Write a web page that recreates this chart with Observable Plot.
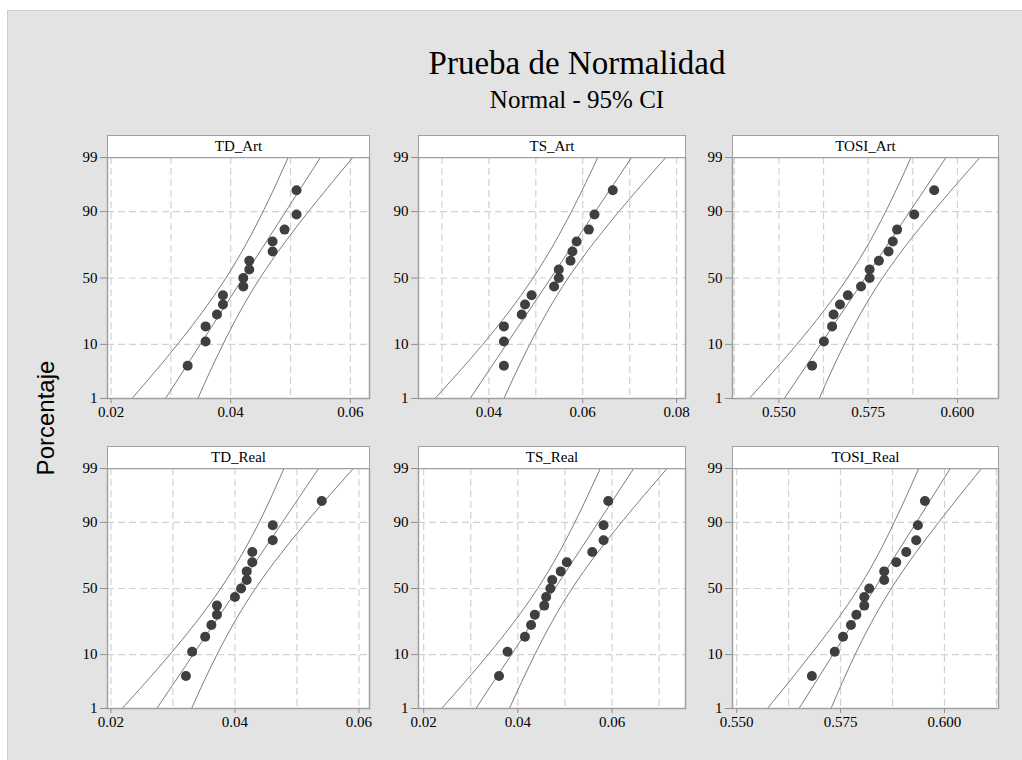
<!DOCTYPE html>
<html>
<head>
<meta charset="utf-8">
<script src="https://cdn.jsdelivr.net/npm/d3@7"></script>
<script src="https://cdn.jsdelivr.net/npm/@observablehq/plot@0.6"></script>
<style>
  html, body { margin: 0; padding: 0; background: #ffffff; width: 1022px; height: 760px; overflow: hidden; }
  #bg { position: absolute; left: 7px; top: 10px; width: 1015px; height: 750px; background: #e3e3e3; border-left: 1px solid #cfcfcf; border-top: 1px solid #cfcfcf; box-sizing: border-box; }
  .abs { position: absolute; }
  .title { font-family: "Liberation Serif", "Times New Roman", serif; color: #000; text-align: center; white-space: nowrap; }
  .strip { position: absolute; background: #fff; border: 1px solid #a0a0a0; box-sizing: border-box; font-family: "Liberation Serif", serif; font-size: 15px; line-height: 20px; text-align: center; color: #000; }
  .ylab { position: absolute; font-family: "Liberation Sans", Arial, sans-serif; font-size: 24px; color: #000; white-space: nowrap; transform: translate(-50%, -50%) rotate(-90deg); }
  svg text { font-family: "Liberation Serif", "Times New Roman", serif !important; }
</style>
</head>
<body>
<div id="bg"></div>
<div id="root"></div>
<script>
// ---------- data ----------
const panelNames = ["TD_Art", "TS_Art", "TOSI_Art", "TD_Real", "TS_Real", "TOSI_Real"];
const pointPct = [4.5, 11.0, 17.5, 24.0, 30.5, 37.0, 43.5, 50.0, 56.5, 63.0, 69.5, 76.0, 82.5, 89.0, 95.5];
const yTickPct = [1, 10, 50, 90, 99];
const yGridPct = [10, 50, 90];
const ciPct = [1, 10, 50, 90, 99];
const fitPct = [1, 99];

const tdArt    = [0.0328, 0.0358, 0.0358, 0.0377, 0.0387, 0.0387, 0.0421, 0.0421, 0.0431, 0.0431, 0.0470, 0.0470, 0.0490, 0.0510, 0.0510];
const tsArt    = [0.0432, 0.0432, 0.0432, 0.0470, 0.0477, 0.0491, 0.0539, 0.0549, 0.0549, 0.0574, 0.0578, 0.0587, 0.0613, 0.0625, 0.0664];
const tosiArt  = [0.5593, 0.5626, 0.5649, 0.5653, 0.5671, 0.5693, 0.5730, 0.5754, 0.5754, 0.5780, 0.5807, 0.5819, 0.5831, 0.5879, 0.5935];
const tdReal   = [0.0321, 0.0331, 0.0352, 0.0362, 0.0371, 0.0371, 0.0400, 0.0410, 0.0419, 0.0419, 0.0428, 0.0428, 0.0461, 0.0461, 0.0540];
const tsReal   = [0.0360, 0.0378, 0.0415, 0.0428, 0.0436, 0.0456, 0.0460, 0.0469, 0.0473, 0.0491, 0.0504, 0.0558, 0.0582, 0.0582, 0.0592];
const tosiReal = [0.5681, 0.5736, 0.5756, 0.5775, 0.5788, 0.5807, 0.5807, 0.5819, 0.5855, 0.5855, 0.5884, 0.5908, 0.5932, 0.5936, 0.5953];

// confidence band (upper = left curve, lower = right curve) at ciPct, fitted line at fitPct
const tdArtUpper = [0.0235, 0.0311, 0.0392, 0.0454, 0.0496];
const tdArtFit   = [0.0291, 0.0550];
const tdArtLower = [0.0345, 0.0387, 0.0449, 0.0530, 0.0604];
const tsArtUpper = [0.0285, 0.0387, 0.0494, 0.0576, 0.0632];
const tsArtFit   = [0.0360, 0.0704];
const tsArtLower = [0.0432, 0.0487, 0.0569, 0.0677, 0.0777];
const tosiArtUpper = [0.5417, 0.5550, 0.5692, 0.5799, 0.5870];
const tosiArtFit   = [0.5515, 0.5968];
const tosiArtLower = [0.5613, 0.5683, 0.5790, 0.5932, 0.6063];
const tdRealUpper = [0.0218, 0.0295, 0.0377, 0.0439, 0.0479];
const tdRealFit   = [0.0274, 0.0535];
const tdRealLower = [0.0330, 0.0371, 0.0433, 0.0515, 0.0591];
const tsRealUpper = [0.0238, 0.0337, 0.0442, 0.0521, 0.0575];
const tsRealFit   = [0.0311, 0.0646];
const tsRealLower = [0.0382, 0.0436, 0.0515, 0.0620, 0.0717];
const tosiRealUpper = [0.5574, 0.5678, 0.5793, 0.5879, 0.5938];
const tosiRealFit   = [0.5650, 0.6014];
const tosiRealLower = [0.5727, 0.5785, 0.5872, 0.5986, 0.6089];

// axes
const xDomains = [[0.0194, 0.0632], [0.0250, 0.0819], [0.5370, 0.6115], [0.01945, 0.0617], [0.0189, 0.0756], [0.5490, 0.6130]];
const xTicks = [[0.02, 0.04, 0.06], [0.04, 0.06, 0.08], [0.550, 0.575, 0.600], [0.02, 0.04, 0.06], [0.02, 0.04, 0.06], [0.550, 0.575, 0.600]];
const xGrid = [
  [0.02, 0.03, 0.04, 0.05, 0.06],
  [0.03, 0.04, 0.05, 0.06, 0.07, 0.08],
  [0.5375, 0.55, 0.5625, 0.575, 0.5875, 0.60],
  [0.02, 0.03, 0.04, 0.05, 0.06],
  [0.02, 0.03, 0.04, 0.05, 0.06, 0.07],
  [0.55, 0.5625, 0.575, 0.5875, 0.60, 0.6125]
];
const xFormats = [".2f", ".2f", ".3f", ".2f", ".2f", ".3f"];

const panelPoints = [tdArt, tsArt, tosiArt, tdReal, tsReal, tosiReal];
const panelUpper = [tdArtUpper, tsArtUpper, tosiArtUpper, tdRealUpper, tsRealUpper, tosiRealUpper];
const panelFit = [tdArtFit, tsArtFit, tosiArtFit, tdRealFit, tsRealFit, tosiRealFit];
const panelLower = [tdArtLower, tsArtLower, tosiArtLower, tdRealLower, tsRealLower, tosiRealLower];

// ---------- normal probability (probit) transform for the y scale ----------
function probit(p) {
  const a = [-3.969683028665376e+01, 2.209460984245205e+02, -2.759285104469687e+02, 1.383577518672690e+02, -3.066479806614716e+01, 2.506628277459239e+00];
  const b = [-5.447609879822406e+01, 1.615858368580409e+02, -1.556989798598866e+02, 6.680131188771972e+01, -1.328068155288572e+01];
  const c = [-7.784894002430293e-03, -3.223964580411365e-01, -2.400758276161838e+00, -2.549732539343734e+00, 4.374664141464968e+00, 2.938163982698783e+00];
  const d = [7.784695709041462e-03, 3.224671290700398e-01, 2.445134137142996e+00, 3.754408661907416e+00];
  const pl = 0.02425, ph = 1 - pl;
  let q, r;
  if (p < pl) {
    q = Math.sqrt(-2 * Math.log(p));
    return (((((c[0]*q+c[1])*q+c[2])*q+c[3])*q+c[4])*q+c[5]) / ((((d[0]*q+d[1])*q+d[2])*q+d[3])*q+1);
  }
  if (p <= ph) {
    q = p - 0.5; r = q * q;
    return (((((a[0]*r+a[1])*r+a[2])*r+a[3])*r+a[4])*r+a[5])*q / (((((b[0]*r+b[1])*r+b[2])*r+b[3])*r+b[4])*r+1);
  }
  q = Math.sqrt(-2 * Math.log(1 - p));
  return -(((((c[0]*q+c[1])*q+c[2])*q+c[3])*q+c[4])*q+c[5]) / ((((d[0]*q+d[1])*q+d[2])*q+d[3])*q+1);
}
const zOf = pct => probit(pct / 100);
const yTickZ = yTickPct.map(zOf);

// ---------- layout ----------
const colLeft = [107, 418, 732], colRight = [369, 685, 998];
const rowTop = [157, 468], rowBottom = [398, 708];
const stripH = 22;
const mL = 48, mR = 12, mT = 4, mB = 36;
const serif = "Liberation Serif";

const root = document.getElementById("root");

function addDiv(cls, text, style) {
  const el = document.createElement("div");
  el.className = cls;
  el.textContent = text;
  Object.assign(el.style, style);
  root.appendChild(el);
  return el;
}

addDiv("abs title", "Prueba de Normalidad", {left: "377px", top: "45px", width: "400px", fontSize: "33px", lineHeight: "36px"});
addDiv("abs title", "Normal - 95% CI", {left: "377px", top: "87px", width: "400px", fontSize: "25px", lineHeight: "26px"});
addDiv("ylab", "Porcentaje", {left: "46px", top: "418px"});

panelNames.forEach((name, i) => {
  const col = i % 3, row = Math.floor(i / 3);
  const L = colLeft[col], R = colRight[col], T = rowTop[row], B = rowBottom[row];
  const pts = panelPoints[i].map((v, k) => ({x: v, pct: pointPct[k]}));
  const up = panelUpper[i].map((v, k) => ({x: v, pct: ciPct[k]}));
  const lo = panelLower[i].map((v, k) => ({x: v, pct: ciPct[k]}));
  const fit = panelFit[i].map((v, k) => ({x: v, pct: fitPct[k]}));
  const fmt = d3.format(xFormats[i]);

  const chart = Plot.plot({
    width: (R - L) + mL + mR,
    height: (B - T) + mT + mB,
    marginLeft: mL, marginRight: mR, marginTop: mT, marginBottom: mB,
    style: {background: "transparent", fontFamily: serif, fontSize: "15px", color: "#000", overflow: "visible"},
    x: {domain: xDomains[i]},
    y: {domain: [zOf(1), zOf(99)]},
    marks: [
      Plot.frame({fill: "#ffffff", stroke: "none"}),
      Plot.ruleX(xGrid[i], {x: d => d, stroke: "#d2d2d2", strokeWidth: 1.2, strokeDasharray: "7,4"}),
      Plot.ruleY(yGridPct, {y: d => zOf(d), stroke: "#d2d2d2", strokeWidth: 1.2, strokeDasharray: "7,4"}),
      Plot.line(up, {x: "x", y: d => zOf(d.pct), curve: "natural", stroke: "#7d7d7d", strokeWidth: 1}),
      Plot.line(fit, {x: "x", y: d => zOf(d.pct), stroke: "#7d7d7d", strokeWidth: 1}),
      Plot.line(lo, {x: "x", y: d => zOf(d.pct), curve: "natural", stroke: "#7d7d7d", strokeWidth: 1}),
      Plot.dot(pts, {x: "x", y: d => zOf(d.pct), r: 5, fill: "#3f3f3f", stroke: "none"}),
      Plot.frame({stroke: "#a0a0a0", strokeWidth: 1.5}),
      Plot.axisX({ticks: xTicks[i], tickFormat: fmt, tickSize: 5, tickPadding: 3, stroke: "#909090", fill: "#000", fontFamily: serif, fontSize: 15, label: null}),
      Plot.axisY({ticks: yTickZ, tickFormat: d => { const k = yTickZ.findIndex(z => Math.abs(z - d) < 1e-9); return k >= 0 ? String(yTickPct[k]) : ""; }, tickSize: 7, tickPadding: 3, stroke: "#909090", fill: "#000", fontFamily: serif, fontSize: 15, label: null})
    ]
  });
  chart.style.position = "absolute";
  chart.style.left = (L - mL) + "px";
  chart.style.top = (T - mT) + "px";
  root.appendChild(chart);

  addDiv("strip", name, {left: L + "px", top: (T - stripH) + "px", width: (R - L + 1) + "px", height: (stripH + 1) + "px"});
});
</script>
</body>
</html>
